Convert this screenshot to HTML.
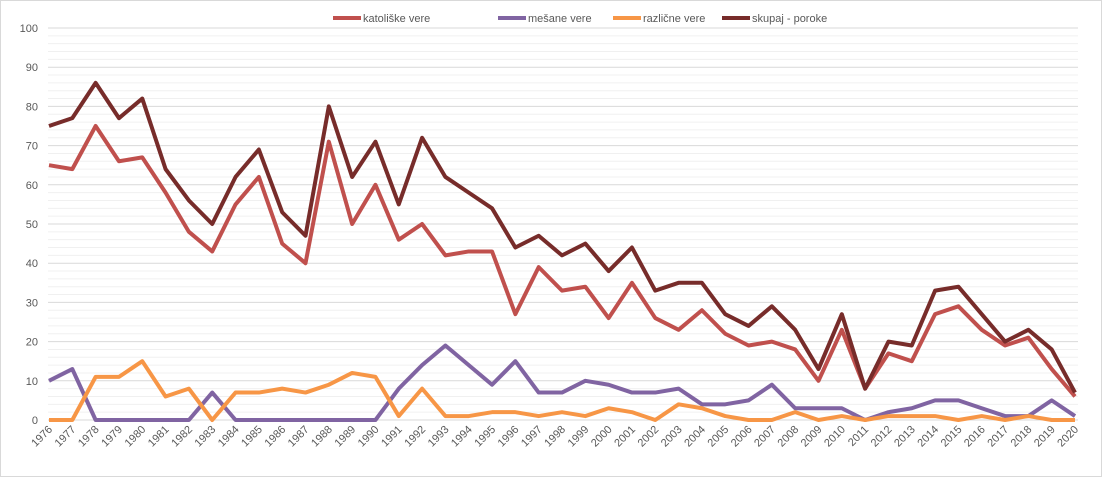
<!DOCTYPE html><html><head><style>body{margin:0;background:#fff}svg{display:block;font-family:"Liberation Sans",sans-serif}</style></head><body>
<svg id="s" width="1102" height="477" xmlns="http://www.w3.org/2000/svg">
<rect x="0.5" y="0.5" width="1101" height="476" fill="#fff" stroke="#d9d9d9"/>
</svg>
<script>
const s=document.getElementById('s'),NS='http://www.w3.org/2000/svg';
function el(t,a,txt){const e=document.createElementNS(NS,t);for(const k in a)e.setAttribute(k,a[k]);if(txt!=null)e.textContent=txt;s.appendChild(e);return e;}
const X0=49,DX=(1075-49)/44,Y0=420,K=3.92;
const X=i=>X0+i*DX,Y=v=>Y0-v*K;
for(let v=2;v<100;v+=2)if(v%10)el('line',{x1:48,x2:1078,y1:Y(v),y2:Y(v),stroke:'#f0f0f0','stroke-width':1});
for(let v=0;v<=100;v+=10){el('line',{x1:48,x2:1078,y1:Y(v),y2:Y(v),stroke:'#d9d9d9','stroke-width':1});
el('text',{x:38,y:Y(v)+4,'text-anchor':'end','font-size':11,fill:'#595959'},v);}
for(let i=0;i<45;i++){const x=X(i),y=430;el('text',{x:x+4,y:y,'text-anchor':'end','font-size':11,fill:'#595959',transform:`rotate(-45 ${x+4} ${y})`},1976+i);}
const D=[
['#c0504d',[65,64,75,66,67,58,48,43,55,62,45,40,71,50,60,46,50,42,43,43,27,39,33,34,26,35,26,23,28,22,19,20,18,10,23,8,17,15,27,29,23,19,21,13,6]],
['#8064a2',[10,13,0,0,0,0,0,7,0,0,0,0,0,0,0,8,14,19,14,9,15,7,7,10,9,7,7,8,4,4,5,9,3,3,3,0,2,3,5,5,3,1,1,5,1]],
['#f79646',[0,0,11,11,15,6,8,0,7,7,8,7,9,12,11,1,8,1,1,2,2,1,2,1,3,2,0,4,3,1,0,0,2,0,1,0,1,1,1,0,1,0,1,0,0]],
['#772c2a',[75,77,86,77,82,64,56,50,62,69,53,47,80,62,71,55,72,62,58,54,44,47,42,45,38,44,33,35,35,27,24,29,23,13,27,8,20,19,33,34,27,20,23,18,7]]];
const order=[1,2,0,3];
for(const j of order){const [c,d]=D[j];el('polyline',{points:d.map((v,i)=>X(i)+','+Y(v)).join(' '),fill:'none',stroke:c,'stroke-width':4,'stroke-linejoin':'round'});}
const L=[['katoliške vere',333],['mešane vere',498],['različne vere',613],['skupaj - poroke',722]];
L.forEach(([t,x],j)=>{el('line',{x1:x,x2:x+28,y1:18,y2:18,stroke:D[j][0],'stroke-width':4});el('text',{x:x+30,y:22,'font-size':11,fill:'#595959'},t);});
</script></body></html>
